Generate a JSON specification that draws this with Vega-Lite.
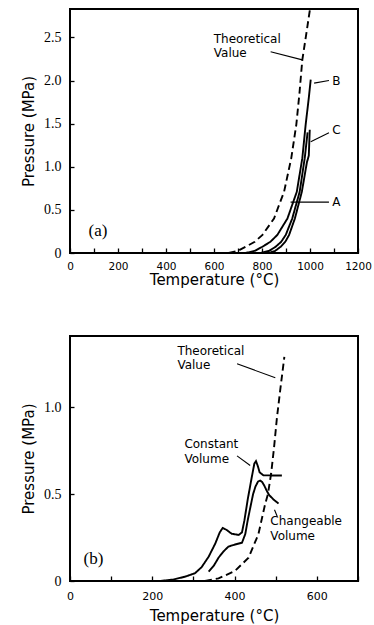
{
  "$schema": "https://vega.github.io/schema/vega-lite/v6.json",
  "background": "white",
  "padding": {"left": 20, "top": 8, "right": 3, "bottom": 0},
  "spacing": 46,
  "config": {
    "view": {"stroke": "black", "strokeWidth": 2},
    "axis": {"domain": false, "grid": false, "tickColor": "black", "tickWidth": 1.3, "labelColor": "black", "titleColor": "black", "titleFontWeight": "normal", "labelFlush": false, "labelOverlap": false}
  },
  "vconcat": [
    {
      "width": 288,
      "height": 244,
      "encoding": {
        "x": {"field": "T", "type": "quantitative", "title": "Temperature (°C)",
          "scale": {"domain": [0, 1200], "nice": false, "zero": false},
          "axis": {"values": [0, 100, 200, 300, 400, 500, 600, 700, 800, 900, 1000, 1100, 1200], "format": "d",
            "labelExpr": "datum.value % 200 === 0 ? datum.label : ''",
            "tickSize": -5, "labelPadding": 13, "labelFont": "DejaVu Sans", "labelFontSize": 10.5,
            "titleFont": "DejaVu Sans", "titleFontSize": 15, "titleY": 31.5, "titleBaseline": "alphabetic"}},
        "y": {"field": "P", "type": "quantitative", "title": "Pressure  (MPa)",
          "scale": {"domain": [0, 2.83], "nice": false, "zero": false},
          "axis": {"values": [0, 0.5, 1, 1.5, 2, 2.5],
            "labelExpr": "datum.value === 0 ? '0' : format(datum.value, '.1f')",
            "tickSize": -4, "labelPadding": 13, "labelFont": "Liberation Serif", "labelFontSize": 14,
            "titleFont": "DejaVu Sans", "titleFontSize": 15, "titleX": -37, "titleBaseline": "alphabetic"}}
      },
      "layer": [
        {
          "data": {"values": [
            {"curve": "Theoretical", "style": "dashed", "T": 661, "P": 0},
            {"curve": "Theoretical", "style": "dashed", "T": 700, "P": 0.025},
            {"curve": "Theoretical", "style": "dashed", "T": 732, "P": 0.073},
            {"curve": "Theoretical", "style": "dashed", "T": 770, "P": 0.13},
            {"curve": "Theoretical", "style": "dashed", "T": 802, "P": 0.21},
            {"curve": "Theoretical", "style": "dashed", "T": 850, "P": 0.40},
            {"curve": "Theoretical", "style": "dashed", "T": 892, "P": 0.71},
            {"curve": "Theoretical", "style": "dashed", "T": 922, "P": 1.10},
            {"curve": "Theoretical", "style": "dashed", "T": 943, "P": 1.49},
            {"curve": "Theoretical", "style": "dashed", "T": 956, "P": 1.85},
            {"curve": "Theoretical", "style": "dashed", "T": 968, "P": 2.24},
            {"curve": "Theoretical", "style": "dashed", "T": 985, "P": 2.55},
            {"curve": "Theoretical", "style": "dashed", "T": 1000, "P": 2.83},
            {"curve": "B", "style": "solid", "T": 732, "P": 0},
            {"curve": "B", "style": "solid", "T": 770, "P": 0.025},
            {"curve": "B", "style": "solid", "T": 802, "P": 0.073},
            {"curve": "B", "style": "solid", "T": 835, "P": 0.13},
            {"curve": "B", "style": "solid", "T": 864, "P": 0.21},
            {"curve": "B", "style": "solid", "T": 906, "P": 0.40},
            {"curve": "B", "style": "solid", "T": 945, "P": 0.71},
            {"curve": "B", "style": "solid", "T": 968, "P": 1.10},
            {"curve": "B", "style": "solid", "T": 982, "P": 1.49},
            {"curve": "B", "style": "solid", "T": 995, "P": 1.80},
            {"curve": "B", "style": "solid", "T": 1003, "P": 2.01},
            {"curve": "A", "style": "solid", "T": 795, "P": 0},
            {"curve": "A", "style": "solid", "T": 830, "P": 0.025},
            {"curve": "A", "style": "solid", "T": 857, "P": 0.073},
            {"curve": "A", "style": "solid", "T": 880, "P": 0.13},
            {"curve": "A", "style": "solid", "T": 899, "P": 0.21},
            {"curve": "A", "style": "solid", "T": 926, "P": 0.40},
            {"curve": "A", "style": "solid", "T": 957, "P": 0.71},
            {"curve": "A", "style": "solid", "T": 978, "P": 1.10},
            {"curve": "A", "style": "solid", "T": 986, "P": 1.30},
            {"curve": "A", "style": "solid", "T": 990, "P": 1.40},
            {"curve": "C", "style": "solid", "T": 829, "P": 0},
            {"curve": "C", "style": "solid", "T": 855, "P": 0.025},
            {"curve": "C", "style": "solid", "T": 878, "P": 0.073},
            {"curve": "C", "style": "solid", "T": 897, "P": 0.13},
            {"curve": "C", "style": "solid", "T": 913, "P": 0.21},
            {"curve": "C", "style": "solid", "T": 937, "P": 0.40},
            {"curve": "C", "style": "solid", "T": 966, "P": 0.71},
            {"curve": "C", "style": "solid", "T": 987, "P": 1.05},
            {"curve": "C", "style": "solid", "T": 995, "P": 1.13},
            {"curve": "C", "style": "solid", "T": 999, "P": 1.43}
          ]},
          "mark": {"type": "line", "color": "black", "strokeWidth": 1.9, "clip": true},
          "encoding": {
            "detail": {"field": "curve", "type": "nominal"},
            "strokeDash": {"field": "style", "type": "nominal", "scale": {"domain": ["solid", "dashed"], "range": [[1, 0], [7, 4]]}, "legend": null}
          }
        },
        {
          "data": {"values": [
            {"T": 836, "P": 2.335, "T2": 968, "P2": 2.24},
            {"T": 1017, "P": 1.97, "T2": 1079, "P2": 2.0},
            {"T": 1003, "P": 1.29, "T2": 1079, "P2": 1.395},
            {"T": 919, "P": 0.59, "T2": 1079, "P2": 0.59}
          ]},
          "mark": {"type": "rule", "color": "black", "strokeWidth": 1.1},
          "encoding": {"x2": {"field": "T2"}, "y2": {"field": "P2"}}
        },
        {
          "data": {"values": [
            {"T": 599, "P": 2.48, "text": "Theoretical"},
            {"T": 599, "P": 2.32, "text": "Value"},
            {"T": 1093, "P": 2.0, "text": "B"},
            {"T": 1093, "P": 1.425, "text": "C"},
            {"T": 1093, "P": 0.59, "text": "A"}
          ]},
          "mark": {"type": "text", "align": "left", "baseline": "middle", "font": "DejaVu Sans", "fontSize": 12, "color": "black"},
          "encoding": {"text": {"field": "text", "type": "nominal"}}
        },
        {
          "data": {"values": [{"T": 77, "P": 0.26, "text": "(a)"}]},
          "mark": {"type": "text", "align": "left", "baseline": "middle", "font": "Liberation Serif", "fontSize": 17, "color": "black"},
          "encoding": {"text": {"field": "text", "type": "nominal"}}
        }
      ]
    },
    {
      "width": 288,
      "height": 245,
      "encoding": {
        "x": {"field": "T", "type": "quantitative", "title": "Temperature (°C)",
          "scale": {"domain": [0, 700], "nice": false, "zero": false},
          "axis": {"values": [0, 100, 200, 300, 400, 500, 600, 700], "format": "d",
            "labelExpr": "datum.value % 200 === 0 ? datum.label : ''",
            "tickSize": -5, "labelPadding": 14, "labelFont": "DejaVu Sans", "labelFontSize": 11,
            "titleFont": "DejaVu Sans", "titleFontSize": 15, "titleY": 39.5, "titleBaseline": "alphabetic"}},
        "y": {"field": "P", "type": "quantitative", "title": "Pressure  (MPa)",
          "scale": {"domain": [0, 1.41], "nice": false, "zero": false},
          "axis": {"values": [0, 0.5, 1],
            "labelExpr": "datum.value === 0 ? '0' : format(datum.value, '.1f')",
            "tickSize": -4, "labelPadding": 13, "labelFont": "Liberation Serif", "labelFontSize": 14,
            "titleFont": "DejaVu Sans", "titleFontSize": 15, "titleX": -37, "titleBaseline": "alphabetic"}}
      },
      "layer": [
        {
          "data": {"values": [
            {"curve": "Theoretical", "style": "dashed", "T": 328, "P": 0},
            {"curve": "Theoretical", "style": "dashed", "T": 361, "P": 0.015},
            {"curve": "Theoretical", "style": "dashed", "T": 401, "P": 0.058},
            {"curve": "Theoretical", "style": "dashed", "T": 434, "P": 0.134},
            {"curve": "Theoretical", "style": "dashed", "T": 458, "P": 0.27},
            {"curve": "Theoretical", "style": "dashed", "T": 474, "P": 0.44},
            {"curve": "Theoretical", "style": "dashed", "T": 481, "P": 0.50},
            {"curve": "Theoretical", "style": "dashed", "T": 489, "P": 0.62},
            {"curve": "Theoretical", "style": "dashed", "T": 496, "P": 0.77},
            {"curve": "Theoretical", "style": "dashed", "T": 503, "P": 0.94},
            {"curve": "Theoretical", "style": "dashed", "T": 511, "P": 1.10},
            {"curve": "Theoretical", "style": "dashed", "T": 521, "P": 1.29},
            {"curve": "Constant", "style": "solid", "T": 219, "P": 0},
            {"curve": "Constant", "style": "solid", "T": 250, "P": 0.008},
            {"curve": "Constant", "style": "solid", "T": 280, "P": 0.025},
            {"curve": "Constant", "style": "solid", "T": 304, "P": 0.045},
            {"curve": "Constant", "style": "solid", "T": 320, "P": 0.08},
            {"curve": "Constant", "style": "solid", "T": 337, "P": 0.14},
            {"curve": "Constant", "style": "solid", "T": 353, "P": 0.215},
            {"curve": "Constant", "style": "solid", "T": 364, "P": 0.28},
            {"curve": "Constant", "style": "solid", "T": 371, "P": 0.305},
            {"curve": "Constant", "style": "solid", "T": 380, "P": 0.295},
            {"curve": "Constant", "style": "solid", "T": 393, "P": 0.272},
            {"curve": "Constant", "style": "solid", "T": 410, "P": 0.265},
            {"curve": "Constant", "style": "solid", "T": 418, "P": 0.28},
            {"curve": "Constant", "style": "solid", "T": 424, "P": 0.35},
            {"curve": "Constant", "style": "solid", "T": 432, "P": 0.47},
            {"curve": "Constant", "style": "solid", "T": 442, "P": 0.60},
            {"curve": "Constant", "style": "solid", "T": 448, "P": 0.675},
            {"curve": "Constant", "style": "solid", "T": 452, "P": 0.69},
            {"curve": "Constant", "style": "solid", "T": 456, "P": 0.665},
            {"curve": "Constant", "style": "solid", "T": 461, "P": 0.625},
            {"curve": "Constant", "style": "solid", "T": 470, "P": 0.608},
            {"curve": "Constant", "style": "solid", "T": 515, "P": 0.607},
            {"curve": "Changeable", "style": "solid", "T": 337, "P": 0.054},
            {"curve": "Changeable", "style": "solid", "T": 350, "P": 0.09},
            {"curve": "Changeable", "style": "solid", "T": 361, "P": 0.134},
            {"curve": "Changeable", "style": "solid", "T": 373, "P": 0.17},
            {"curve": "Changeable", "style": "solid", "T": 385, "P": 0.198},
            {"curve": "Changeable", "style": "solid", "T": 401, "P": 0.21},
            {"curve": "Changeable", "style": "solid", "T": 418, "P": 0.22},
            {"curve": "Changeable", "style": "solid", "T": 426, "P": 0.27},
            {"curve": "Changeable", "style": "solid", "T": 432, "P": 0.35},
            {"curve": "Changeable", "style": "solid", "T": 438, "P": 0.42},
            {"curve": "Changeable", "style": "solid", "T": 445, "P": 0.50},
            {"curve": "Changeable", "style": "solid", "T": 451, "P": 0.545},
            {"curve": "Changeable", "style": "solid", "T": 457, "P": 0.572},
            {"curve": "Changeable", "style": "solid", "T": 462, "P": 0.578},
            {"curve": "Changeable", "style": "solid", "T": 467, "P": 0.57},
            {"curve": "Changeable", "style": "solid", "T": 472, "P": 0.55},
            {"curve": "Changeable", "style": "solid", "T": 478, "P": 0.52},
            {"curve": "Changeable", "style": "solid", "T": 484, "P": 0.495},
            {"curve": "Changeable", "style": "solid", "T": 495, "P": 0.468},
            {"curve": "Changeable", "style": "solid", "T": 507, "P": 0.446}
          ]},
          "mark": {"type": "line", "color": "black", "strokeWidth": 1.9, "clip": true},
          "encoding": {
            "detail": {"field": "curve", "type": "nominal"},
            "strokeDash": {"field": "style", "type": "nominal", "scale": {"domain": ["solid", "dashed"], "range": [[1, 0], [7, 4]]}, "legend": null}
          }
        },
        {
          "data": {"values": [
            {"T": 406, "P": 1.25, "T2": 499, "P2": 1.17},
            {"T": 406, "P": 0.72, "T2": 438, "P2": 0.665},
            {"T": 497, "P": 0.41, "T2": 504, "P2": 0.37}
          ]},
          "mark": {"type": "rule", "color": "black", "strokeWidth": 1.1},
          "encoding": {"x2": {"field": "T2"}, "y2": {"field": "P2"}}
        },
        {
          "data": {"values": [
            {"T": 261, "P": 1.324, "text": "Theoretical"},
            {"T": 261, "P": 1.242, "text": "Value"},
            {"T": 278, "P": 0.787, "text": "Constant"},
            {"T": 278, "P": 0.705, "text": "Volume"},
            {"T": 487, "P": 0.346, "text": "Changeable"},
            {"T": 487, "P": 0.26, "text": "Volume"}
          ]},
          "mark": {"type": "text", "align": "left", "baseline": "middle", "font": "DejaVu Sans", "fontSize": 12, "color": "black"},
          "encoding": {"text": {"field": "text", "type": "nominal"}}
        },
        {
          "data": {"values": [{"T": 33, "P": 0.129, "text": "(b)"}]},
          "mark": {"type": "text", "align": "left", "baseline": "middle", "font": "Liberation Serif", "fontSize": 17, "color": "black"},
          "encoding": {"text": {"field": "text", "type": "nominal"}}
        }
      ]
    }
  ]
}
